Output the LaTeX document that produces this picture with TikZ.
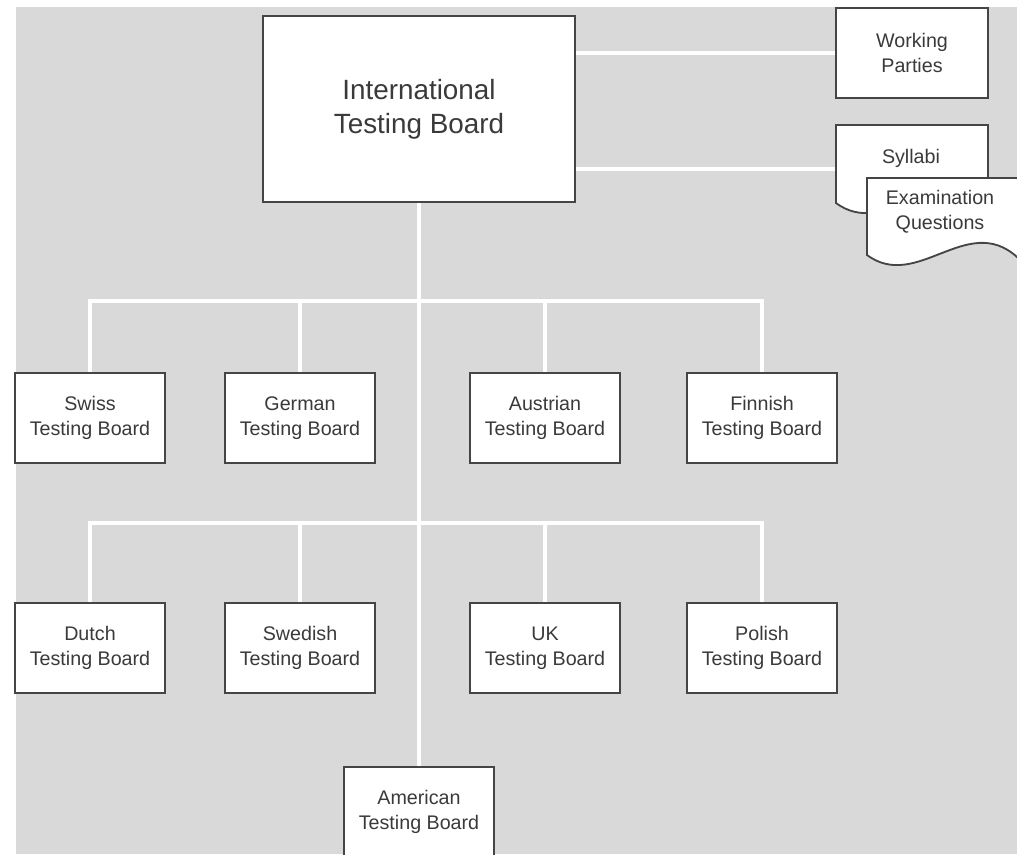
\documentclass[tikz,border=0pt]{standalone}
\usepackage{fontspec}
\setmainfont{Liberation Sans}
\definecolor{bggray}{HTML}{D9D9D9}
\definecolor{boxline}{HTML}{454545}
\definecolor{txtgray}{HTML}{3A3A3A}
\tikzset{
	board/.style={draw=boxline, line width=1.3pt, fill=white, align=center, text=txtgray, inner sep=0pt,
		minimum width=3.75cm, minimum height=2.25cm, font=\fontsize{14}{17.8}\selectfont},
	doctext/.style={align=center, text=txtgray, inner sep=0pt, font=\fontsize{14}{17.8}\selectfont},
	docshape/.style={draw=boxline, line width=1.3pt, fill=white},
	link/.style={white, line width=3.4pt},
}
\begin{document}
\begin{tikzpicture}[x=0.025cm, y=-0.025cm]
		\useasboundingbox (0,0) rectangle (1017,854);
		\clip (0,0) rectangle (1017,854);
		\fill[bggray] (16,7) rectangle (1017,854);
		
		% top
		\node[board, minimum width=7.8cm, minimum height=4.65cm, font=\fontsize{19.8}{24.2}\selectfont] (itb) at (419,109) {International\\Testing Board};
		\node[board, minimum width=3.8cm] (wp) at (912,53) {Working\\Parties};
		
		% boards
		\foreach \n/\x/\t in {swiss/90/Swiss, german/300/German, austrian/545/Austrian, finnish/762/Finnish}{
			\node[board] (\n) at (\x,418) {\t\\Testing Board};
		}
		\foreach \n/\x/\t in {dutch/90/Dutch, swedish/300/Swedish, uk/545/UK, polish/762/Polish}{
			\node[board] (\n) at (\x,648) {\t\\Testing Board};
		}
		\node[board] (us) at (419,812) {American\\Testing Board};
		
		\coordinate (bus1) at (419,301);
		\coordinate (bus2) at (419,523);
		\coordinate (sylleft) at (836,169);
		
		\draw[link] (itb.south) -- (us.north);
		\foreach \n in {swiss, german, austrian, finnish}{
			\draw[link] (\n.north) |- (bus1);
		}
		\foreach \n in {dutch, swedish, uk, polish}{
			\draw[link] (\n.north) |- (bus2);
		}
		\draw[link] (itb.east |- wp.west) -- (wp.west);
		\draw[link] (itb.east |- sylleft) -- (sylleft);
		
		% documents
		\draw[docshape] (836,125) -- (988,125) -- (988,205) .. controls (936,160) and (886,240) .. (836,203) -- cycle;
		\node[doctext] (syl) at (911,158) {Syllabi};
		\draw[docshape] (867,178) -- (1030,178) -- (1030,262) -- (1017,257) .. controls (967,212) and (917,292) .. (867,255) -- cycle;
		\node[doctext] (exq) at (940,212) {Examination\\Questions};
\end{tikzpicture}
\end{document}
